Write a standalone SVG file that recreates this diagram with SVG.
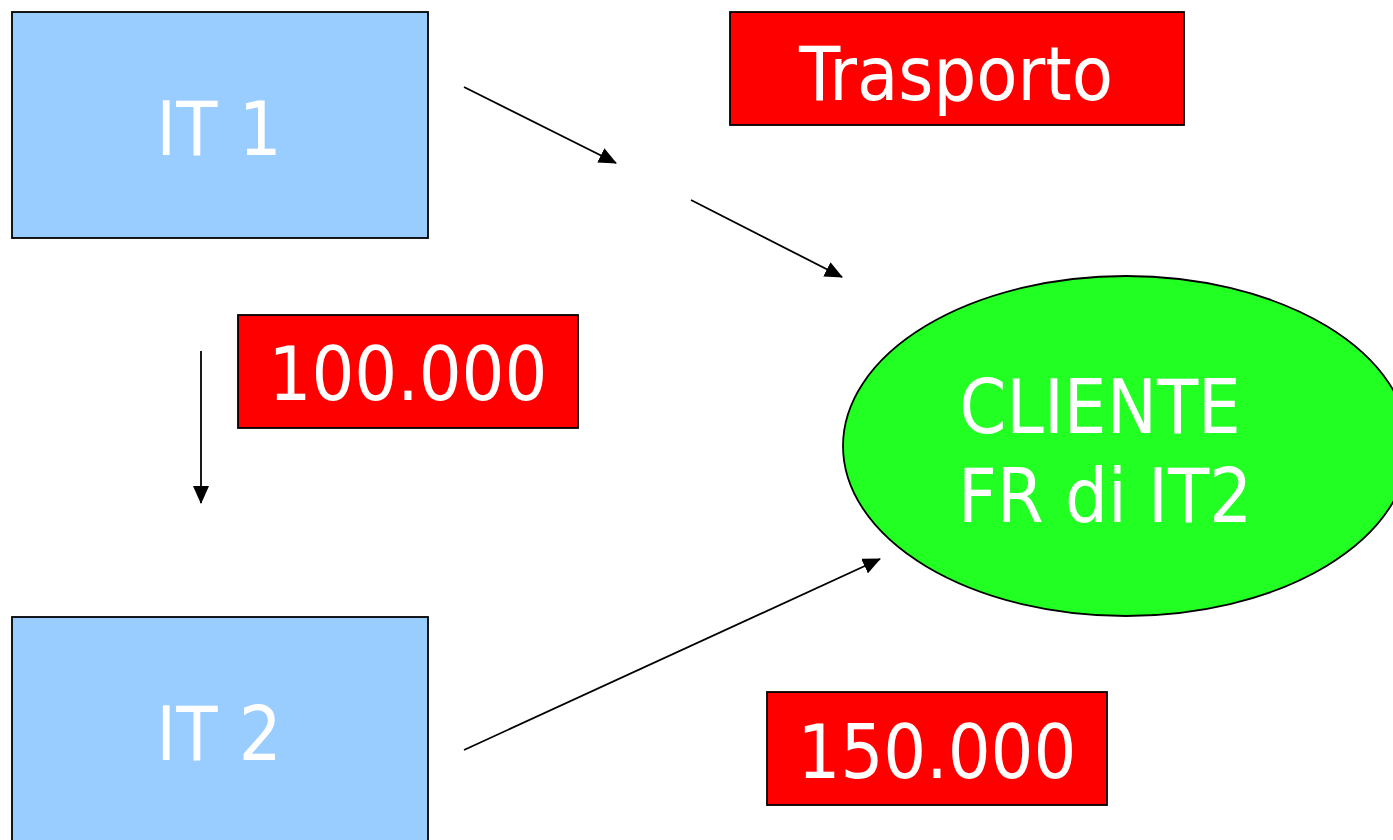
<svg xmlns="http://www.w3.org/2000/svg" width="1393" height="840" viewBox="0 0 1393 840">
<style>
.box{stroke:#000;stroke-width:1.8}
.it{fill:#99CCFF}
.red{fill:#FF0000}
.cli{fill:#22FF22}
.lbl{fill:#fff;font-family:"DejaVu Sans Condensed","DejaVu Sans",sans-serif;font-stretch:condensed;font-size:75px;text-anchor:middle}
.con{stroke:#000;stroke-width:1.8;fill:none}
</style>
<defs>
<marker id="ah" markerUnits="userSpaceOnUse" markerWidth="18" markerHeight="16" viewBox="0 0 18 16" refX="17" refY="8" orient="auto">
<path d="M0,0 L18,8 L0,16 z" fill="#000"/>
</marker>
</defs>
<rect width="1393" height="840" fill="#fff"/>
<g id="it1"><rect class="box it" x="12" y="12" width="416" height="226"/><text class="lbl" x="219" y="155">IT 1</text></g>
<g id="it2"><rect class="box it" x="12" y="617" width="416" height="226"/><text class="lbl" x="219" y="760">IT 2</text></g>
<g id="trasporto"><rect class="box red" x="730" y="12" width="454" height="113"/><text class="lbl" x="956" y="100">Trasporto</text></g>
<g id="v100"><rect class="box red" x="238" y="315" width="340" height="113"/><text class="lbl" x="408" y="400">100.000</text></g>
<g id="v150"><rect class="box red" x="767" y="692" width="340" height="113"/><text class="lbl" x="937" y="778">150.000</text></g>
<g id="cliente"><ellipse class="box cli" cx="1126" cy="446" rx="283" ry="170"/><text class="lbl" x="1100" y="433">CLIENTE</text><text class="lbl" x="1105" y="522">FR di IT2</text></g>
<g id="connectors">
<line class="con" x1="464" y1="87" x2="616" y2="163" marker-end="url(#ah)"/>
<line class="con" x1="691" y1="200" x2="842" y2="277" marker-end="url(#ah)"/>
<line class="con" x1="201" y1="351" x2="201" y2="503" marker-end="url(#ah)"/>
<line class="con" x1="464" y1="750" x2="880" y2="559" marker-end="url(#ah)"/>
</g>
</svg>
